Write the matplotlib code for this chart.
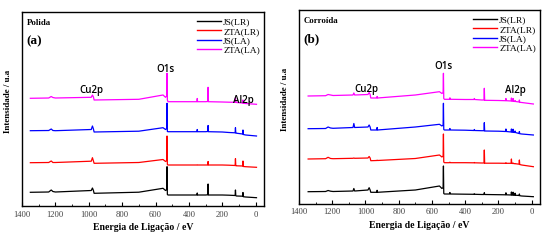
import matplotlib
matplotlib.use("Agg")
import matplotlib.pyplot as plt
from matplotlib.ticker import MultipleLocator

# ---------------- data ----------------
labels = ["JS(LR)", "ZTA(LR)", "JS(LA)", "ZTA(LA)"]
colors = ["#000000", "#ff0000", "#0000ff", "#ff00ff"]

# Panel (a) Polida
energy_a = [1350, 1240, 1225, 1215, 1200, 985, 978, 972, 968, 700, 555, 540, 533, 531, 529, 525,
            400, 352, 350, 348, 300, 287, 285, 283, 200, 160, 123, 121, 119, 115, 78, 76, 74, 60, -5]
js_lr_a = [13.7, 14, 16, 14.5, 14, 15.5, 18, 15.5, 12.7, 13.8, 17.7, 15.5, 16.5, 39.3, 11.5, 11,
           11, 11, 13, 11, 11, 11.2, 22, 11, 11, 10.8, 10.5, 16, 10.3, 10, 9.8, 13.5, 9.3, 9, 8.3]
zta_lr_a = [43.3, 43.5, 45, 43.5, 43.5, 44.8, 48.3, 45, 42.7, 43.5, 46.5, 44.5, 45.5, 70, 41.5, 41,
            41, 41, 41.2, 41, 41, 41, 44.5, 41, 41, 40.8, 40.5, 47.3, 40.3, 40.2, 40, 45, 39.5, 39.3, 38.7]
js_la_a = [75.3, 75.5, 77, 75.5, 75.3, 76.5, 80, 77, 74, 74.8, 78.3, 76.5, 77.5, 102.7, 74.5, 74.3,
           74.3, 74.3, 76.5, 74.3, 74.3, 74.5, 80.5, 74.3, 74, 73.5, 73.2, 78.3, 73, 72.8, 72, 76, 71.5, 71, 70]
zta_la_a = [107.7, 108, 109.5, 108.5, 108, 108.7, 111, 109, 106, 106.7, 111, 108.7, 110, 132.7, 106, 104.3,
            104.3, 104.3, 107.5, 104.3, 104.3, 104.5, 118.7, 104.3, 104, 103.8, 103.7, 108.3, 103.7, 103.5,
            103, 106, 102.7, 102.5, 101.7]

# Panel (b) Corroida
energy_b = [1345, 1240, 1225, 1210, 1195, 1075, 1070, 1065, 985, 978, 972, 968, 932, 930, 928, 700,
            555, 540, 533, 531, 529, 525, 495, 492, 489, 400, 347, 345, 343, 300, 287, 285, 283, 200,
            157, 155, 153, 124, 122, 120, 114, 112, 110, 102, 100, 98, 76, 74, 72, 60, -10]
js_lr_b = [11.8, 12, 13, 12.3, 12, 12.5, 15, 12.5, 13.5, 15.8, 13.5, 11.2, 11.2, 13.2, 11.2, 13.5,
           17.5, 15, 16, 37.5, 10, 9.5, 9.5, 11, 9.5, 9.3, 9.2, 9.8, 9.2, 9, 9, 10.8, 9, 8.8,
           8.7, 10.7, 8.7, 8.5, 11.5, 8.5, 8.4, 11.3, 8.4, 8.3, 10.3, 8.3, 8, 9.5, 7.8, 7.5, 6.8]
zta_lr_b = [44.5, 44.8, 46.2, 45, 44.8, 45.2, 45.5, 45.2, 45.5, 47, 45.5, 42.8, 43, 43.3, 43, 45,
            48.5, 46.5, 47.5, 69.5, 41.5, 40.8, 40.8, 41.3, 40.8, 40.8, 40.7, 41, 40.7, 40.5, 40.5, 53.5, 40.3, 40.3,
            40.2, 40.8, 40.2, 40.2, 44.5, 40.2, 40, 40.5, 40, 39.8, 40, 39.8, 39.3, 43.5, 39, 38.5, 36.8]
js_la_b = [74.8, 75, 76.5, 75.5, 75.2, 76, 80, 76, 76.5, 78.5, 76.5, 73.5, 73.5, 76, 73.5, 76.5,
           79.2, 77.5, 78.5, 100.2, 74, 73.5, 73.5, 75, 73.5, 73.3, 73, 74, 73, 72.8, 72.8, 80.8, 72.5, 72.3,
           72, 74.5, 72, 71.5, 74.5, 71.5, 71.3, 74.3, 71.2, 71, 72.5, 71, 70, 72, 69.8, 69.5, 68.5]
zta_la_b = [107.5, 107.8, 109, 108.5, 108, 108.5, 110.5, 108.5, 109, 111, 109, 105.5, 105.5, 107, 105.5, 108.5,
            111.8, 110, 111, 130.2, 105, 104.2, 104.2, 105.7, 104.2, 104, 104, 105, 104, 103.5, 103.5, 115.2, 103.2, 103,
            102.8, 105, 102.8, 102.5, 105.5, 102.5, 102.3, 105, 102.3, 102, 103, 102, 101.5, 103.5, 101.2, 101, 99.5]

peak_names = ["Cu2p", "O1s", "Al2p"]
peak_pos_a = [(983, 115.3), (543, 136), (75, 106)]
peak_pos_b = [(995, 114.2), (528, 136.8), (100, 113.5)]

panels = [
    dict(title="Polida", tag="(a)", energy=energy_a,
         series=[js_lr_a, zta_lr_a, js_la_a, zta_la_a], peaks=peak_pos_a,
         rect=[22 / 550, 34 / 240, 242 / 550, 194 / 240], ymax=194),
    dict(title="Corroída", tag="(b)", energy=energy_b,
         series=[js_lr_b, zta_lr_b, js_la_b, zta_la_b], peaks=peak_pos_b,
         rect=[299 / 550, 36.5 / 240, 241 / 550, 193.5 / 240], ymax=193.5),
]

serif = "Liberation Serif"
sans = "Open Sans"

fig = plt.figure(figsize=(5.5, 2.4), dpi=100)

for p in panels:
    ax = fig.add_axes(p["rect"])
    for vals, c, lab in zip(p["series"], colors, labels):
        ax.plot(p["energy"], vals, color=c, lw=0.9, label=lab)
    ax.set_xlim(1400, -50)
    ax.set_ylim(0, p["ymax"])
    ax.xaxis.set_major_locator(MultipleLocator(200))
    ax.xaxis.set_minor_locator(MultipleLocator(100))
    ax.tick_params(axis="x", which="major", direction="in", length=3, width=0.8,
                   labelsize=6.2, labelcolor="#444444", pad=3.5)
    ax.tick_params(axis="x", which="minor", direction="in", length=1.8, width=0.6)
    ax.set_yticks([])
    for lab in ax.get_xticklabels():
        lab.set_fontfamily(serif)
    for s in ax.spines.values():
        s.set_linewidth(1.0)
    ax.set_xlabel("Energia de Ligação / eV", fontfamily=serif, fontweight="bold",
                  fontsize=7, labelpad=3)
    ax.set_ylabel("Intensidade / u.a", fontfamily=serif, fontweight="bold",
                  fontsize=6.5, labelpad=4)
    ax.yaxis.set_label_coords(-0.04, 0.54)
    ax.text(0.019, 0.942, p["title"], transform=ax.transAxes, fontfamily=serif,
            fontweight="bold", fontsize=6.3, va="center", ha="left")
    ax.text(0.017, 0.849, p["tag"], transform=ax.transAxes, fontfamily=serif,
            fontweight="bold", fontsize=9.5, va="center", ha="left")
    for name, (xe, yv) in zip(peak_names, p["peaks"]):
        ax.text(xe, yv, name, fontfamily=sans, fontsize=7, fontweight="semibold",
                ha="center", va="center")
    leg = ax.legend(loc="upper right", bbox_to_anchor=(0.995, 0.985), frameon=False,
                    prop={"family": serif, "size": 6.8}, handlelength=2.6,
                    handletextpad=0.2, labelspacing=0.08, borderpad=0.2,
                    borderaxespad=0.1)
    for h in leg.get_lines():
        h.set_linewidth(1.0)

fig.savefig("out.png", dpi=100)
